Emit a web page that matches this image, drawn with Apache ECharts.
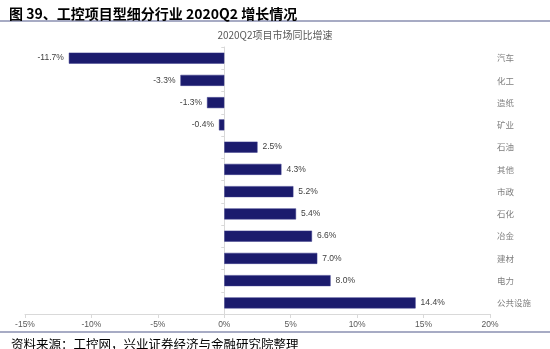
<!DOCTYPE html>
<html>
<head>
<meta charset="utf-8">
<script src="https://cdn.jsdelivr.net/npm/echarts@6/dist/echarts.min.js"></script>
<style>
html,body{margin:0;padding:0;background:#fff;}
#main{width:550px;height:349px;}
</style>
</head>
<body>
<div id="main"></div>
<script>
const categories = ['汽车','化工','造纸','矿业','石油','其他','市政','石化','冶金','建材','电力','公共设施'];
const growth = [-11.7, -3.3, -1.3, -0.4, 2.5, 4.3, 5.2, 5.4, 6.6, 7.0, 8.0, 14.4];
const xTicks = { min: -15, max: 20, interval: 5 };
const headerText = '图 39、工控项目型细分行业 2020Q2 增长情况';
const chartTitle = '2020Q2项目市场同比增速';
const sourceText = '资料来源：工控网，兴业证券经济与金融研究院整理';

const cjk = '"Noto Sans CJK SC", "Noto Sans", sans-serif';
const chart = echarts.init(document.getElementById('main'), null, {renderer: 'canvas'});
chart.setOption({
  animation: false,
  backgroundColor: '#ffffff',
  title: [
    { text: headerText, left: 4, top: 2, textStyle: { fontFamily: cjk, fontSize: 14, fontWeight: 'bold', color: '#000' } },
    { text: chartTitle, left: 'center', top: 25, textStyle: { fontFamily: cjk, fontSize: 10, fontWeight: 'normal', color: '#595959' } },
    { text: sourceText, left: 6, top: 333, textStyle: { fontFamily: cjk, fontSize: 12.5, fontWeight: 'normal', color: '#000' } }
  ],
  graphic: [
    { type: 'line', shape: { x1: 0, y1: 21, x2: 550, y2: 21 }, style: { stroke: '#8a8fb0', lineWidth: 1.5 } },
    { type: 'line', shape: { x1: 0, y1: 332, x2: 550, y2: 332 }, style: { stroke: '#8a8fb0', lineWidth: 1.5 } }
  ],
  grid: { left: 25, right: 60, top: 47, bottom: 35, containLabel: false },
  xAxis: {
    type: 'value', min: xTicks.min, max: xTicks.max, interval: xTicks.interval,
    axisLine: { show: true, lineStyle: { color: '#d9d9d9' } },
    axisTick: { show: true, length: 4, lineStyle: { color: '#d9d9d9' } },
    splitLine: { show: false },
    axisLabel: { formatter: '{value}%', fontSize: 8.5, color: '#595959', margin: 6, fontFamily: 'Arial, "Liberation Sans", sans-serif' }
  },
  yAxis: [
    {
      type: 'category', data: categories, inverse: true,
      axisLine: { show: true, onZero: true, lineStyle: { color: '#d9d9d9' } },
      axisTick: { show: true, length: 3, lineStyle: { color: '#d9d9d9' } },
      axisLabel: { show: false }
    },
    {
      type: 'category', data: categories, inverse: true, position: 'right',
      axisLine: { show: false }, axisTick: { show: false },
      axisLabel: { show: true, margin: 7, fontSize: 8.5, color: '#7f7f7f', fontFamily: cjk, align: 'left' }
    }
  ],
  series: [{
    type: 'bar', yAxisIndex: 0, barWidth: 11,
    itemStyle: { color: '#1b1b6d', borderColor: '#3a3a8a', borderWidth: 0.5 },
    label: {
      show: true, distance: 5, fontSize: 8.5, color: '#404040',
      fontFamily: 'Arial, "Liberation Sans", sans-serif',
      formatter: p => p.value.toFixed(1) + '%'
    },
    data: growth.map(v => ({ value: v, label: { position: v < 0 ? 'left' : 'right' } }))
  }]
});
</script>
</body>
</html>
